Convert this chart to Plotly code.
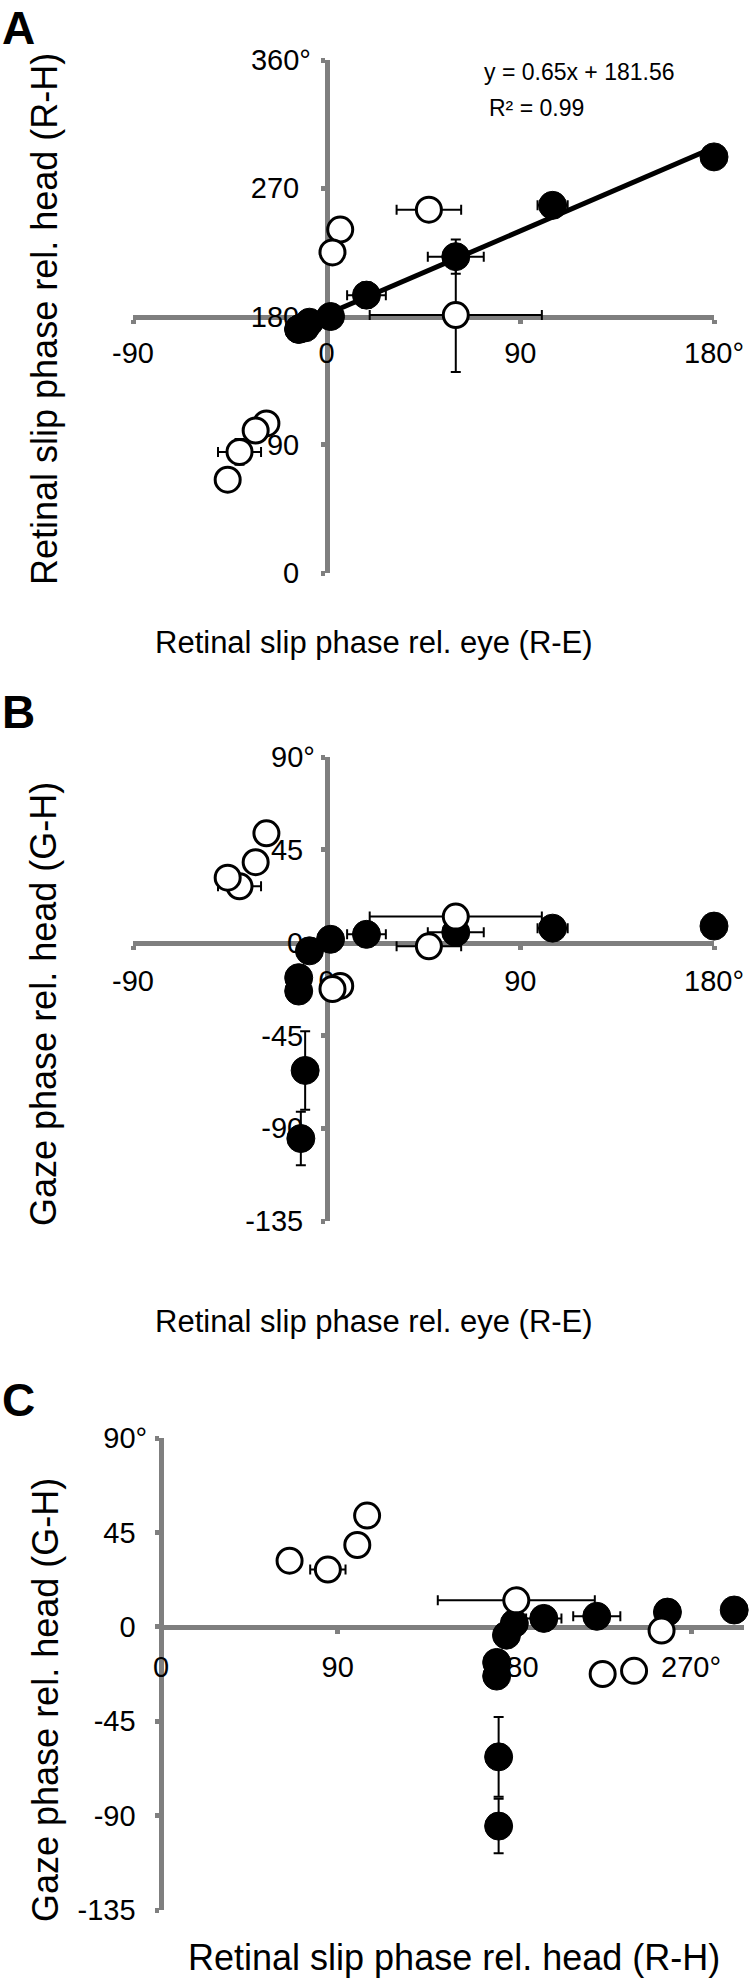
import plotly.graph_objects as go

W, H = 750, 1981

# filled (black) points: retinal slip rel. eye, retinal slip rel. head, gaze rel. head
fill_re = [180, 105, 60, 18.5, 1.8, -8, -13, -13, -10, -12]
fill_rh = [292, 258, 222, 195, 180, 176, 171, 171, 172, 172]
fill_gh = [8, 7, 5, 4, 1.6, -4, -17, -23.5, -62, -95]
fill_re_err = [0, 7, 13, 9, 0, 0, 0, 0, 0, 0]
fill_rh_err = [0, 6, 12, 9, 0, 0, 0, 0, 0, 0]
fill_gh_err = [0, 0, 0, 0, 0, 0, 0, 0, 19, 13]

# open (white) points
open_re = [47.5, 6.3, 2.7, 60, -28, -33, -40.5, -46]
open_rh = [255, 241, 225, 181, 105, 100, 85, 65.5]
open_gh = [-1.8, -21, -22.5, 12.6, 53, 39, 27.3, 31.5]
open_re_err = [15, 0, 0, 40, 0, 0, 10, 0]
open_rh_err = [0, 0, 0, 40, 0, 0, 9, 0]
open_gh_err = [0, 0, 0, 0, 0, 0, 0, 0]

# linear fit shown in panel A
fit_slope = 0.65
fit_intercept = 181.56

re_ticks = [-90, 0, 90, 180]
rh_ticks = [0, 90, 180, 270, 360]
gh_ticks = [-135, -90, -45, 0, 45, 90]
rh_x_ticks = [0, 90, 180, 270]

FONT = "Liberation Sans, Arial, sans-serif"
GRAY = "#7f7f7f"


def px(x):
    return x / W


def py(y):
    return 1 - y / H


def deg_labels(vals, hang=False):
    out = []
    for i, v in enumerate(vals):
        s = str(v)
        if i == len(vals) - 1:
            s += "°"
        elif hang:
            s += "<span style='color:rgba(0,0,0,0)'>°</span>"
        out.append(s)
    return out


# panels: pixel boxes and ranges
panels = [
    dict(x=(133, 714), y=(60, 573), xr=[-90, 180], yr=[0, 360], xcross=0, ycross=180,
         xt=re_ticks, yt=rh_ticks, xs=fill_re, ys=fill_rh, xo=open_re, yo=open_rh,
         xe=fill_re_err, ye=fill_rh_err, xeo=open_re_err, yeo=open_rh_err,
         xstand=5, ystand=4),
    dict(x=(133, 714), y=(757, 1221), xr=[-90, 180], yr=[-135, 90], xcross=0, ycross=0,
         xt=re_ticks, yt=gh_ticks, xs=fill_re, ys=fill_gh, xo=open_re, yo=open_gh,
         xe=fill_re_err, ye=fill_gh_err, xeo=open_re_err, yeo=open_gh_err,
         xstand=7, ystand=0),
    dict(x=(161, 744), y=(1438, 1910), xr=[0, 297], yr=[-135, 90], xcross=0, ycross=0,
         xt=rh_x_ticks, yt=gh_ticks, xs=fill_rh, ys=fill_gh, xo=open_rh, yo=open_gh,
         xe=fill_rh_err, ye=fill_gh_err, xeo=open_rh_err, yeo=open_gh_err,
         xstand=8, ystand=2),
]

fig = go.Figure()
layout = {}

for i, p in enumerate(panels):
    n = "" if i == 0 else str(i + 1)
    xd = [px(p["x"][0]), px(p["x"][1])]
    yd = [py(p["y"][1]), py(p["y"][0])]
    xpos = xd[0] + (p["xcross"] - p["xr"][0]) / (p["xr"][1] - p["xr"][0]) * (xd[1] - xd[0])
    ypos = yd[0] + (p["ycross"] - p["yr"][0]) / (p["yr"][1] - p["yr"][0]) * (yd[1] - yd[0])
    common = dict(showline=True, linecolor=GRAY, linewidth=5, ticks="outside", ticklen=4,
                  tickwidth=5, tickcolor=GRAY, showgrid=False, zeroline=False,
                  layer="below traces", anchor="free", automargin=False,
                  tickfont=dict(family=FONT, size=29, color="black"))
    layout["xaxis" + n] = dict(common, domain=xd, range=p["xr"], position=ypos,
                               tickvals=p["xt"], ticktext=deg_labels(p["xt"]),
                               ticklabelstandoff=p["xstand"])
    layout["yaxis" + n] = dict(common, domain=yd, range=p["yr"], position=xpos,
                               tickvals=p["yt"], ticktext=deg_labels(p["yt"], hang=True),
                               ticklabelstandoff=p["ystand"])
    xa, ya = "x" + n, "y" + n

    if i == 0:
        fx = [min(fill_re), max(fill_re)]
        fy = [fit_slope * v + fit_intercept for v in fx]
        fig.add_trace(go.Scatter(x=fx, y=fy, mode="lines", line=dict(color="black", width=5),
                                 xaxis=xa, yaxis=ya, cliponaxis=False, hoverinfo="skip"))

    err = dict(type="data", visible=True, color="black", thickness=2, width=5)
    fig.add_trace(go.Scatter(
        x=p["xs"], y=p["ys"], mode="markers", xaxis=xa, yaxis=ya, cliponaxis=False,
        marker=dict(color="black", size=28, line=dict(color="black", width=1)),
        error_x=dict(err, array=p["xe"]), error_y=dict(err, array=p["ye"])))
    fig.add_trace(go.Scatter(
        x=p["xo"], y=p["yo"], mode="markers", xaxis=xa, yaxis=ya, cliponaxis=False,
        marker=dict(color="white", size=25, line=dict(color="black", width=3)),
        error_x=dict(err, array=p["xeo"]), error_y=dict(err, array=p["yeo"])))

ann = []
x_titles = [("Retinal slip phase rel. eye (R-E)", 374, 642, 31),
            ("Retinal slip phase rel. eye (R-E)", 374, 1321, 31),
            ("Retinal slip phase rel. head (R-H)", 454, 1957, 36)]
for t, cx, cy, fs in x_titles:
    ann.append(dict(text=t, x=px(cx), y=py(cy), xref="paper", yref="paper",
                    xanchor="center", yanchor="middle", showarrow=False,
                    font=dict(family=FONT, size=fs, color="black")))
y_titles = [("Retinal slip phase rel. head (R-H)", 44, 319),
            ("Gaze phase rel. head (G-H)", 44, 1004),
            ("Gaze phase rel. head (G-H)", 45, 1700)]
for t, cx, cy in y_titles:
    ann.append(dict(text=t, x=px(cx), y=py(cy), xref="paper", yref="paper", textangle=-90,
                    xanchor="center", yanchor="middle", showarrow=False,
                    font=dict(family=FONT, size=36, color="black")))
for t, ty in [("A", 0), ("B", 684), ("C", 1372)]:
    ann.append(dict(text="<b>%s</b>" % t, x=0, y=py(ty), xref="paper", yref="paper",
                    xanchor="left", yanchor="top", showarrow=False,
                    font=dict(family=FONT, size=46, color="black")))
ann.append(dict(text="y = %.2fx + %.2f" % (fit_slope, fit_intercept), x=px(482), y=py(72),
                xref="paper", yref="paper", xanchor="left", yanchor="middle",
                showarrow=False, font=dict(family=FONT, size=23, color="black")))
ann.append(dict(text="R² = 0.99", x=px(487), y=py(108), xref="paper", yref="paper",
                xanchor="left", yanchor="middle", showarrow=False,
                font=dict(family=FONT, size=23, color="black")))

fig.update_layout(**layout)
fig.update_layout(width=W, height=H,
                  margin=dict(l=0, r=0, t=0, b=0, pad=0, autoexpand=False),
                  plot_bgcolor="white", paper_bgcolor="white", showlegend=False,
                  annotations=ann, font=dict(family=FONT))

fig.write_html("out.html", config={"displayModeBar": False},
               post_script="document.body.style.margin='0';")
